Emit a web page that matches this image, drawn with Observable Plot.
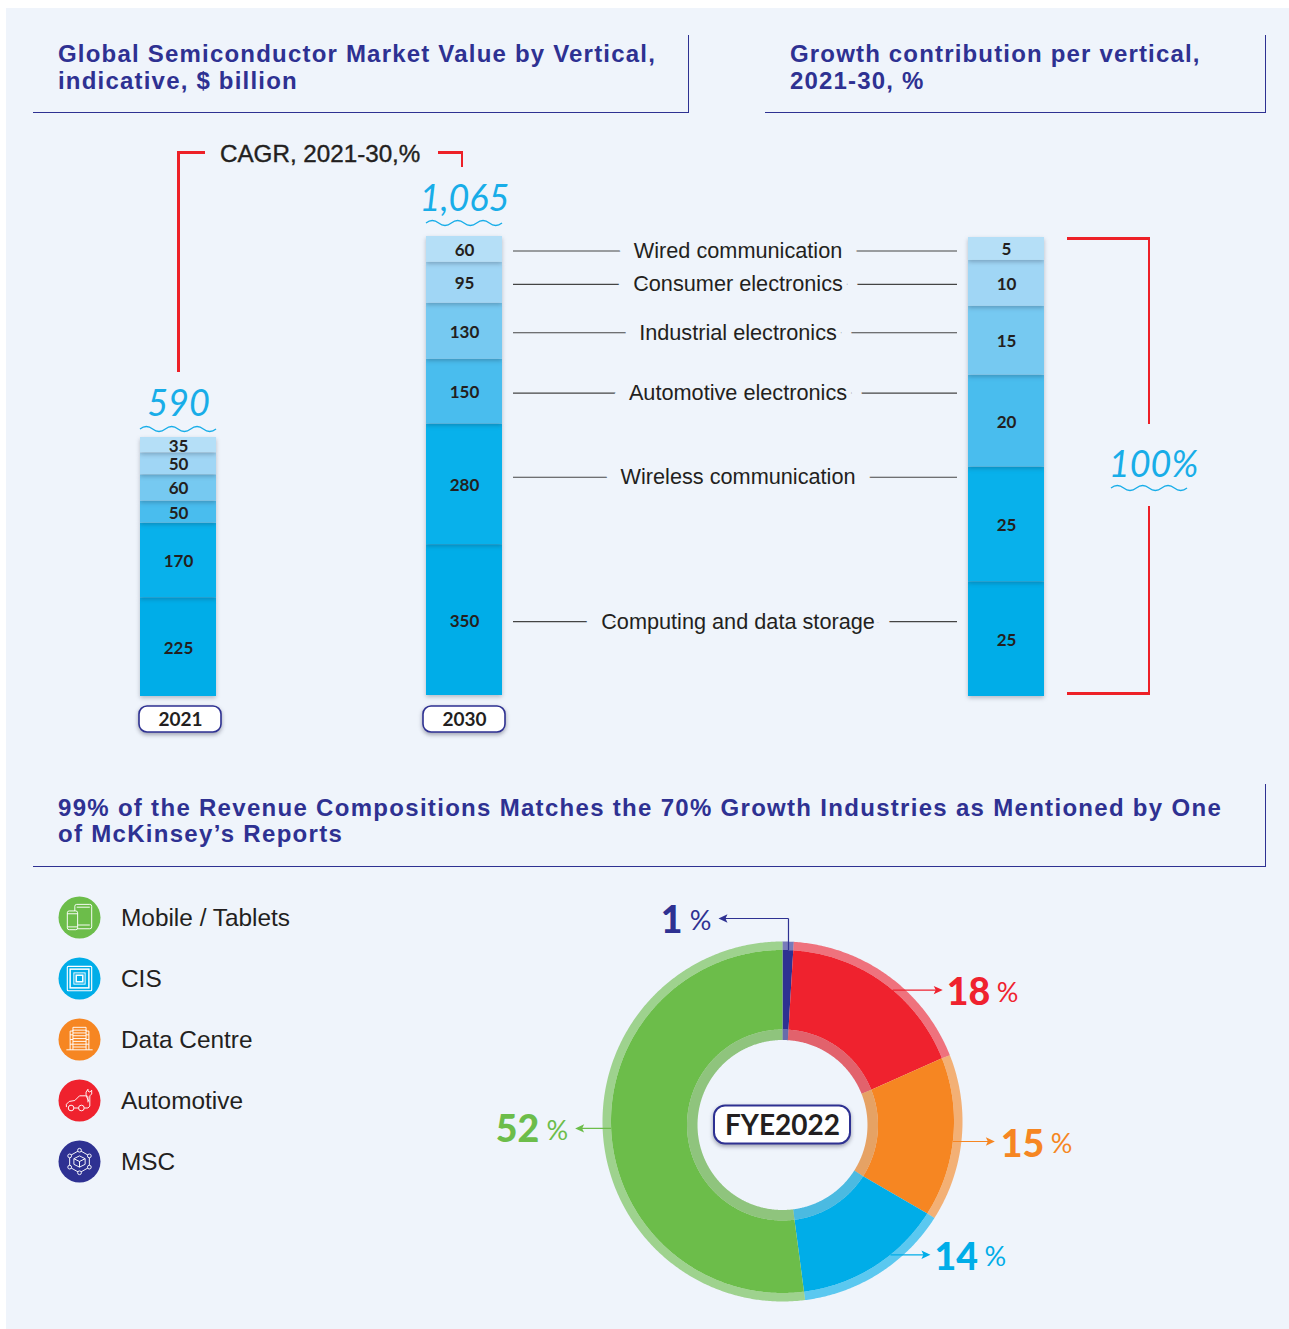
<!DOCTYPE html>
<html>
<head>
<meta charset="utf-8">
<script src="https://cdn.jsdelivr.net/npm/d3@7"></script>
<script src="https://cdn.jsdelivr.net/npm/@observablehq/plot@0.6"></script>
<style>
  html, body { margin: 0; padding: 0; background: #fff; }
  #page { position: relative; width: 1289px; height: 1329px; overflow: hidden; }
  #panel { position: absolute; left: 6px; top: 8px; width: 1283px; height: 1321px; background: #eff4fb; }
  .abs { position: absolute; }
  .title { position: absolute; font: 700 24px/27px "Liberation Sans", sans-serif; letter-spacing: 1.2px; color: #2e3192; white-space: pre; }
  .line { position: absolute; background: #2e3192; }
  .red { position: absolute; background: #ed2027; }
  .chart { position: absolute; }
  .stack g[aria-label="bar"] rect { filter: drop-shadow(0 2px 2px rgba(30,40,60,.28)); }
</style>
</head>
<body>
<div id="page"><div id="panel"></div></div>
<script>
// ---------- data ----------
const verticals = ["Computing and data storage", "Wireless communication", "Automotive electronics", "Industrial electronics", "Consumer electronics", "Wired communication"];
const value2021 = [225, 170, 50, 60, 50, 35];
const value2030 = [350, 280, 150, 130, 95, 60];
const growthShare = [25, 25, 20, 15, 10, 5];
const stackShades = ["#00ade8", "#08b1eb", "#49bdee", "#76c9f1", "#a0d6f5", "#b5dff7"];

const segments = ["MSC", "Automotive", "Data Centre", "CIS", "Mobile / Tablets"];
const revenueShare = [1, 18, 15, 14, 52];
const segmentColors = ["#2e3192", "#ef222e", "#f68622", "#00ade8", "#6cbd4a"];
const legendOrder = ["Mobile / Tablets", "CIS", "Data Centre", "Automotive", "MSC"];

// ---------- page furniture ----------
const page = document.getElementById("page");
const BG = "#eff4fb", INK = "#231f20", NAVY = "#2e3192", SKY = "#18ade8";
function el(cls, css, text) {
  const d = document.createElement("div");
  d.className = cls;
  Object.assign(d.style, css);
  if (text) d.textContent = text;
  page.appendChild(d);
  return d;
}
const px = n => n + "px";
const hline = (cls, x, y, w, t) => el(cls, {left: px(x), top: px(y), width: px(w), height: px(t)});
const vline = (cls, x, y, h, t) => el(cls, {left: px(x), top: px(y), width: px(t), height: px(h)});

el("title", {left: "58px", top: "40px", letterSpacing: "1.2px"}, "Global Semiconductor Market Value by Vertical,\nindicative, $ billion");
el("title", {left: "790px", top: "40px", letterSpacing: "1.17px"}, "Growth contribution per vertical,\n2021-30, %");
el("title", {left: "58px", top: "795px", lineHeight: "26px", letterSpacing: "1.3px"}, "99% of the Revenue Compositions Matches the 70% Growth Industries as Mentioned by One\nof McKinsey\u2019s Reports");
hline("line", 33, 112, 656, 1.3); vline("line", 688, 35, 78, 1.3);
hline("line", 765, 112, 501, 1.3); vline("line", 1265, 35, 78, 1.3);
hline("line", 33, 865.5, 1233, 1.3); vline("line", 1265, 784, 82, 1.3);

// CAGR bracket
vline("red", 177, 151, 221, 2.6); hline("red", 177, 151, 28, 2.6);
hline("red", 438, 151, 25, 2.6); vline("red", 460.5, 151, 16, 2.6);
el("abs", {left: "220px", top: "139px", font: '24.2px/30px "Liberation Sans", sans-serif', color: INK, whiteSpace: "pre", WebkitTextStroke: "0.4px " + INK}, "CAGR, 2021-30,%");
// 100% bracket
hline("red", 1067, 237, 83, 2.6); vline("red", 1147.5, 237, 187, 2.6);
vline("red", 1147.5, 506, 188, 2.6); hline("red", 1067, 692, 83, 2.6);

// ---------- helpers for plot marks ----------
const wave = (cx, y) => () => {
  let d = `M${cx - 38},${y}`;
  for (let i = 0; i < 6; i++) d += `q6.33,${i % 2 ? 5 : -5} 12.67,0`;
  return d3.create("svg:path").attr("d", d).attr("fill", "none").attr("stroke", SKY).attr("stroke-width", 1.3).node();
};
const pill = (cx, cy, w, h, r, sw) => () =>
  d3.create("svg:rect").attr("x", cx - w / 2).attr("y", cy - h / 2).attr("width", w).attr("height", h).attr("rx", r)
    .attr("fill", "#fff").attr("stroke", NAVY).attr("stroke-width", sw)
    .style("filter", "drop-shadow(0 2px 2px rgba(30,30,60,.4))").node();

// ---------- stacked columns ----------
function stackChart({key, values, left, barTop, barH, mTop, mRight = 40, mBottom = 45, total, totalDy, fs, waveDy, pillDy = 23, pillDx, axisDx = 0, tickPad = 16, extra = []}) {
  const rows = values.map((value, i) => ({col: key, vertical: verticals[i], value}));
  const barW = 76, mLeft = 40;
  const sum = d3.sum(values);
  const cx = mLeft + barW / 2;
  const marks = [
    Plot.barY(rows, {x: "col", y: "value", fill: "vertical", order: null}),
    Plot.text(rows, Plot.stackY({x: "col", y: "value", text: d => String(d.value), dy: 1, fill: INK, fontSize: 17, fontWeight: 700, order: null})),
    ...extra
  ];
  if (total) {
    marks.push(Plot.text([total], {x: () => key, y: () => sum, text: d => d, dy: totalDy, fontSize: fs, fontStyle: "italic", fontFamily: "Lato", fontWeight: 400, fill: SKY, letterSpacing: "2px"}));
    marks.push(wave(cx, mTop + waveDy));
  }
  if (pillDx !== undefined) {
    marks.push(pill(cx + pillDx, mTop + barH + pillDy, 82, 26, 8, 1.6));
    marks.push(Plot.axisX({tickSize: 0, tickPadding: tickPad, fontSize: 19, fontWeight: 700, fill: INK, label: null, dx: axisDx}));
  }
  const chart = Plot.plot({
    width: mLeft + barW + mRight, height: mTop + barH + mBottom,
    marginLeft: mLeft, marginRight: mRight, marginTop: mTop, marginBottom: mBottom,
    x: {type: "band", domain: [key], padding: 0, axis: null},
    y: {domain: [0, sum], axis: null},
    color: {domain: verticals, range: stackShades},
    style: {background: "transparent", fontFamily: "Lato", overflow: "visible"},
    marks
  });
  chart.classList.add("stack");
  chart.style.position = "absolute";
  chart.style.left = px(left - mLeft);
  chart.style.top = px(barTop - mTop);
  page.appendChild(chart);
}

stackChart({key: "2021", values: value2021, left: 140, barTop: 437, barH: 259, mTop: 70, total: "590", totalDy: -33, fs: 36, waveDy: -8, pillDx: 2, axisDx: 2});
stackChart({key: "2030", values: value2030, left: 426, barTop: 236, barH: 459, mTop: 60, total: "1,065", totalDy: -37, fs: 36, waveDy: -13, pillDx: 0, pillDy: 24, tickPad: 17});
stackChart({key: "Growth", values: growthShare, left: 968, barTop: 237, barH: 459, mTop: 10, mRight: 170, mBottom: 10,
  extra: [
    Plot.text(["100%"], {x: () => "Growth", y: () => 50, text: d => d, dx: 147, dy: -2, fontSize: 36, fontStyle: "italic", fontWeight: 400, fontFamily: "Lato", fill: SKY, letterSpacing: "2px"}),
    wave(40 + 38 + 143, 10 + 251)
  ]});

// ---------- leader lines + vertical names, on the 2030 column's scale ----------
const cum = d3.cumsum(value2030);
const leaders = verticals.map((name, i) => ({name, at: cum[i] - value2030[i] / 2}));
const leaderNudge = n => (n === "Wireless communication" ? -7 : 1.5);
const leaderChart = Plot.plot({
  width: 444, height: 459, margin: 0,
  y: {domain: [0, d3.sum(value2030)], axis: null},
  style: {background: "transparent", fontFamily: "Liberation Sans", overflow: "visible"},
  marks: leaders.flatMap(d => [
    Plot.ruleY([d.at], {y: v => v, dy: leaderNudge(d.name), stroke: "#444", strokeWidth: 1.1}),
    Plot.text([d], {y: "at", text: "name", frameAnchor: "middle", dx: 2.5, dy: leaderNudge(d.name), fontSize: 21.7, fill: INK, stroke: BG, strokeWidth: 31})
  ])
});
leaderChart.style.position = "absolute";
leaderChart.style.left = "513px";
leaderChart.style.top = "236px";
page.appendChild(leaderChart);

// ---------- legend ----------
const svgUri = body => "data:image/svg+xml," + encodeURIComponent(`<svg xmlns="http://www.w3.org/2000/svg" viewBox="0 0 32 32" fill="none" stroke="#fff" stroke-width="1">${body}</svg>`);
const icons = {
  "Mobile / Tablets": svgUri(`<rect x="11" y="2" width="18" height="26" rx="2"/><path d="M13 5h14M13 24h14"/><rect x="3" y="9" width="11" height="20" rx="2" fill="#6cbd4a"/><path d="M3 12h11M3 26h11"/>`),
  "CIS": svgUri(`<rect x="3" y="3" width="26" height="26" rx="1" stroke-width="1.2"/><rect x="6" y="6" width="20" height="20" stroke-width="1.6"/><rect x="10" y="10" width="12" height="12" stroke-width="1"/><rect x="12.5" y="12.5" width="7" height="7" stroke-width="1.6"/>`),
  "Data Centre": svgUri(`<path d="M6 27V7h3V3h14v4h3v20M2 27h28"/><path d="M9 6h14M9 9h14M9 12h14M9 15h14M9 18h14M9 21h14M9 24h14M9 6v21M23 6v21M6 11h3M6 16h3M6 21h3M23 11h3M23 16h3M23 21h3"/>`),
  "Automotive": svgUri(`<path d="M2 23v-3l3-3 6-1 5-5h7l3 6"/><circle cx="7" cy="24" r="3"/><circle cx="18" cy="24" r="3"/><path d="M10 24h5M21 24h4l2-2v-11l2-2v-4l-2 2-2-1v-2l-2 3v3l2 2v6"/>`),
  "MSC": svgUri(`<path d="M16 4l10.5 6v12L16 28 5.5 22V10z"/><circle cx="16" cy="4" r="2" fill="#2e3192"/><circle cx="26.5" cy="10" r="2" fill="#2e3192"/><circle cx="26.5" cy="22" r="2" fill="#2e3192"/><circle cx="16" cy="28" r="2" fill="#2e3192"/><circle cx="5.5" cy="22" r="2" fill="#2e3192"/><circle cx="5.5" cy="10" r="2" fill="#2e3192"/><path d="M16 10l6 3v6l-6 3-6-3v-6zM10 13l6 3 6-3M16 16v6"/>`)
};
const legendChart = Plot.plot({
  width: 320, height: 305, marginLeft: 21, marginRight: 0, marginTop: 30, marginBottom: 30,
  y: {type: "point", domain: legendOrder, padding: 0, axis: null},
  color: {domain: segments, range: segmentColors},
  style: {background: "transparent", fontFamily: "Liberation Sans", overflow: "visible"},
  marks: [
    Plot.dot(legendOrder, {y: d => d, frameAnchor: "left", r: 21, fill: d => d}),
    Plot.image(legendOrder, {y: d => d, frameAnchor: "left", width: 30, height: 30, src: d => icons[d]}),
    Plot.text(legendOrder, {y: d => d, text: d => d, frameAnchor: "left", dx: 41.5, dy: 0.5, textAnchor: "start", fontSize: 24.4, fill: INK})
  ]
});
legendChart.style.position = "absolute";
legendChart.style.left = "58px";
legendChart.style.top = "886px";
page.appendChild(legendChart);

// ---------- donut ----------
const turn = 360 / d3.sum(revenueShare);
const ends = d3.cumsum(revenueShare);
const polar = (deg, r, off = 0) => [r * Math.sin(deg * Math.PI / 180), -r * Math.cos(deg * Math.PI / 180) + off];
function ring(rIn, offIn, rOut, offOut) {
  return segments.map((name, i) => {
    const a0 = (ends[i] - revenueShare[i]) * turn, a1 = ends[i] * turn;
    const steps = Math.max(2, Math.ceil((a1 - a0) * 2));
    const angles = d3.range(steps + 1).map(k => a0 + (a1 - a0) * k / steps);
    const coords = [...angles.map(a => polar(a, rOut, offOut)), ...angles.reverse().map(a => polar(a, rIn, offIn))];
    coords.push(coords[0]);
    return {type: "Feature", properties: {name}, geometry: {type: "Polygon", coordinates: [coords]}};
  });
}
const bySeg = d => d.properties.name;
const callouts = [
  {name: "Automotive", angle: 40, reach: 50, gap: 4},
  {name: "Data Centre", angle: 96.7, reach: 42, gap: 6},
  {name: "CIS", angle: 141, reach: 40, gap: 4},
  {name: "Mobile / Tablets", angle: 267.7, reach: -36, gap: 0},
  {name: "MSC", angle: 2, reach: 0, gap: 0}
].map(c => {
  const [x, y] = polar(c.angle, 171.5);
  const share = revenueShare[segments.indexOf(c.name)];
  if (c.name === "MSC") return {...c, share, x1: x, y1: y, xe: x, ye: -203, tip: -64, yy: -203, side: -1};
  return {...c, share, x1: x, y1: y, xe: x, ye: y, tip: x + c.reach, yy: y, side: Math.sign(c.reach)};
});
const arrowHead = {draw(ctx) { ctx.moveTo(0, -5); ctx.lineTo(4.2, 4); ctx.lineTo(0, 2); ctx.lineTo(-4.2, 4); ctx.closePath(); }};
const cxD = 302, cyD = 241;
const donut = Plot.plot({
  width: 620, height: 440, margin: 0,
  projection: d3.geoIdentity().translate([cxD, cyD]),
  color: {domain: segments, range: segmentColors},
  style: {background: "transparent", fontFamily: "Lato", overflow: "visible"},
  marks: [
    Plot.geo(ring(171.5, 0, 180, 0), {fill: bySeg, fillOpacity: 0.62}),
    Plot.geo(ring(95.5, 3.5, 171.5, 0), {fill: bySeg}),
    Plot.geo(ring(85, 3.5, 95.5, 3.5), {fill: bySeg, fillOpacity: 0.68}),
    Plot.geo(ring(85, 3.5, 95.5, 3.5), {fill: "#333", fillOpacity: 0.07}),
    // leaders
    Plot.link(callouts.filter(c => c.name === "MSC"), {x1: "x1", y1: "y1", x2: "xe", y2: "ye", stroke: "name", strokeWidth: 1.2, curve: "linear"}),
    Plot.link(callouts, {x1: "xe", y1: "ye", x2: d => d.tip - d.side * 4, y2: "yy", stroke: "name", strokeWidth: 1.2, curve: "linear"}),
    Plot.dot(callouts, {x: d => d.tip - d.side * 5, y: "yy", symbol: arrowHead, fill: "name", stroke: "none", rotate: d => d.side > 0 ? 90 : -90}),
    // values
    Plot.text(callouts, {x: d => d.tip + d.gap, y: d => d.yy + 3, text: d => String(d.share), textAnchor: "start", fill: "name", fontSize: 37.5, fontWeight: 900, filter: d => d.side > 0}),
    Plot.text(callouts, {x: d => d.tip + d.gap + 50, y: d => d.yy + 3, text: () => "%", textAnchor: "start", fill: "name", fontSize: 27, filter: d => d.side > 0}),
    Plot.text(callouts, {x: d => d.tip - 36, y: d => d.yy + 2, text: d => String(d.share), textAnchor: "end", fill: "name", fontSize: 37.5, fontWeight: 900, filter: d => d.side < 0}),
    Plot.text(callouts, {x: d => d.tip - 7, y: d => d.yy + 3, text: () => "%", textAnchor: "end", fill: "name", fontSize: 27, filter: d => d.side < 0}),
    // centre label
    pill(cxD, cyD + 3.5, 136, 38, 11, 2),
    Plot.text(["FYE2022"], {x: () => 0, y: () => 4.5, text: d => d, fontSize: 28, fontWeight: 700, fill: INK})
  ]
});
donut.style.position = "absolute";
donut.style.left = px(782 - cxD);
donut.style.top = px(1121 - cyD);
page.appendChild(donut);
</script>
</body>
</html>
